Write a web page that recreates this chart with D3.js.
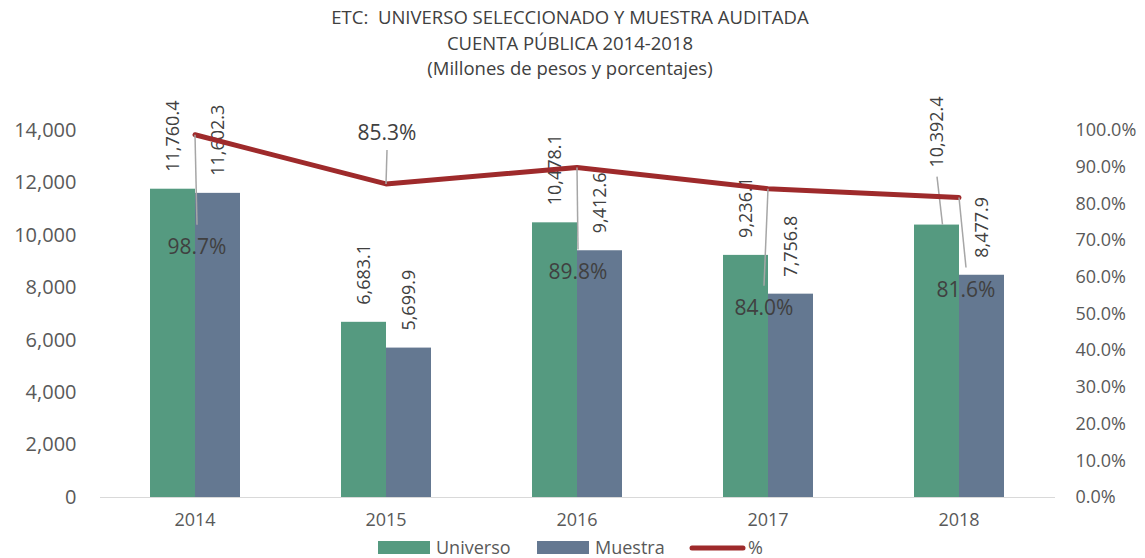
<!DOCTYPE html>
<html>
<head>
<meta charset="utf-8">
<script src="https://cdn.jsdelivr.net/npm/d3@7"></script>
<style>
  body { margin: 0; background: #fff; }
  text { font-family: "Open Sans", sans-serif; }
</style>
</head>
<body>
<div id="chart"></div>
<script>
// Chart data
var years = ["2014", "2015", "2016", "2017", "2018"];
var universo = [11760.4, 6683.1, 10478.1, 9236.1, 10392.4];
var muestra = [11602.3, 5699.9, 9412.6, 7756.8, 8477.9];
var porcentaje = [98.7, 85.3, 89.8, 84.0, 81.6];
var leftTicks = [0, 2000, 4000, 6000, 8000, 10000, 12000, 14000];
var rightTicks = [0, 10, 20, 30, 40, 50, 60, 70, 80, 90, 100];
var titleLines = ["ETC:  UNIVERSO SELECCIONADO Y MUESTRA AUDITADA", "CUENTA PÚBLICA 2014-2018", "(Millones de pesos y porcentajes)"];

// Label placement offsets (pixels from the line point), as in the original
var pctLabelDx = [2, 1, 1, -4, 7];
var pctLabelDy = [112, -51, 104, 119, 92];

var width = 1145, height = 558;
var margin = { top: 130, right: 90.5, bottom: 61, left: 99.5 };
var innerW = width - margin.left - margin.right;
var innerH = height - margin.top - margin.bottom;

var svg = d3.select("#chart").append("svg")
  .attr("width", width)
  .attr("height", height);

// Title
svg.append("g").selectAll("text")
  .data(titleLines)
  .enter().append("text")
  .attr("x", 570)
  .attr("y", function(d, i) { return 24 + i * 25.5; })
  .attr("text-anchor", "middle")
  .attr("font-size", 18.5)
  .attr("fill", "#404040")
  .style("white-space", "pre")
  .text(function(d) { return d; });

var g = svg.append("g")
  .attr("transform", "translate(" + margin.left + "," + margin.top + ")");

// Scales
var x = d3.scaleBand().domain(years).range([0, innerW]);
var x1 = d3.scaleBand().domain(["u", "m"]).range([0, 90]);
var yLeft = d3.scaleLinear().domain([0, 14000]).range([innerH, 0]);
var yRight = d3.scaleLinear().domain([0, 100]).range([innerH, 0]);

// Axes
var leftAxis = g.append("g")
  .call(d3.axisLeft(yLeft).tickValues(leftTicks).tickSize(0).tickPadding(23).tickFormat(d3.format(",")));
leftAxis.select(".domain").remove();
leftAxis.selectAll("text")
  .attr("font-size", 20)
  .attr("fill", "#595959")
  .style("font-family", "Open Sans");

var rightAxis = g.append("g")
  .attr("transform", "translate(" + innerW + ",0)")
  .call(d3.axisRight(yRight).tickValues(rightTicks).tickSize(0).tickPadding(21)
    .tickFormat(function(d) { return d.toFixed(1) + "%"; }));
rightAxis.select(".domain").remove();
rightAxis.selectAll("text")
  .attr("font-size", 18)
  .attr("fill", "#595959")
  .style("font-family", "Open Sans");

var bottomAxis = g.append("g")
  .attr("transform", "translate(0," + innerH + ")")
  .call(d3.axisBottom(x).tickSize(0).tickPadding(16));
bottomAxis.select(".domain").attr("stroke", "#d9d9d9").attr("stroke-width", 1.2);
bottomAxis.selectAll("text")
  .attr("font-size", 18)
  .attr("fill", "#595959")
  .style("font-family", "Open Sans");

// Bars
var rows = years.map(function(y, i) {
  return { year: y, u: universo[i], m: muestra[i], p: porcentaje[i], i: i };
});

var groups = g.selectAll(".grp")
  .data(rows)
  .enter().append("g")
  .attr("class", "grp")
  .attr("transform", function(d) { return "translate(" + (x(d.year) + x.bandwidth() / 2 - 45) + ",0)"; });

groups.append("rect")
  .attr("x", x1("u"))
  .attr("y", function(d) { return yLeft(d.u); })
  .attr("width", x1.bandwidth())
  .attr("height", function(d) { return innerH - yLeft(d.u); })
  .attr("fill", "#559a80");

groups.append("rect")
  .attr("x", x1("m"))
  .attr("y", function(d) { return yLeft(d.m); })
  .attr("width", x1.bandwidth())
  .attr("height", function(d) { return innerH - yLeft(d.m); })
  .attr("fill", "#647891");

// Value labels (rotated)
var fmt = d3.format(",.1f");
function valueLabel(sel, key, lift) {
  sel.append("text")
    .attr("transform", function(d) {
      var cx = x1(key) + x1.bandwidth() / 2 + 6;
      var cy = yLeft(d[key]) - lift(d);
      return "translate(" + cx + "," + cy + ") rotate(-90)";
    })
    .attr("font-size", 18)
    .attr("fill", "#404040")
    .text(function(d) { return fmt(d[key]); });
}
// the 2018 universo label was pulled up in the original, with a leader line
valueLabel(groups, "u", function(d) { return d.year === "2018" ? 57 : 17; });
valueLabel(groups, "m", function() { return 17; });

groups.filter(function(d) { return d.year === "2018"; })
  .append("line")
  .attr("x1", x1("u") + x1.bandwidth() / 2 + 0.5)
  .attr("y1", function(d) { return yLeft(d.u) - 48; })
  .attr("x2", x1("u") + x1.bandwidth() / 2 + 6)
  .attr("y2", function(d) { return yLeft(d.u); })
  .attr("stroke", "#a6a6a6")
  .attr("stroke-width", 1.5);

// Line series
var cx = function(d) { return x(d.year) + x.bandwidth() / 2; };
var line = d3.line()
  .x(cx)
  .y(function(d) { return yRight(d.p); });

g.append("path")
  .datum(rows)
  .attr("d", line)
  .attr("fill", "none")
  .attr("stroke", "#9e2a2b")
  .attr("stroke-width", 5)
  .attr("stroke-linecap", "round")
  .attr("stroke-linejoin", "round");

// Percent labels with leader lines
rows.forEach(function(d) {
  var px = cx(d), py = yRight(d.p);
  var lx = px + pctLabelDx[d.i], ly = py + pctLabelDy[d.i];
  var below = pctLabelDy[d.i] > 0;
  g.append("line")
    .attr("x1", px)
    .attr("y1", py)
    .attr("x2", lx)
    .attr("y2", below ? ly - 22 : ly + 17)
    .attr("stroke", "#a6a6a6")
    .attr("stroke-width", 1.5);
  g.append("text")
    .attr("x", lx)
    .attr("y", ly)
    .attr("dy", "0.35em")
    .attr("text-anchor", "middle")
    .attr("font-size", 21)
    .attr("fill", "#404040")
    .text(d.p.toFixed(1) + "%");
});

// Legend
var legend = svg.append("g").attr("transform", "translate(0,547)");
var items = [
  { name: "Universo", color: "#559a80", type: "rect", x: 378 },
  { name: "Muestra", color: "#647891", type: "rect", x: 537 },
  { name: "%", color: "#9e2a2b", type: "line", x: 690 }
];
items.forEach(function(it) {
  if (it.type === "rect") {
    legend.append("rect")
      .attr("x", it.x).attr("y", -6)
      .attr("width", 52).attr("height", 13)
      .attr("fill", it.color);
  } else {
    legend.append("line")
      .attr("x1", it.x + 2).attr("x2", it.x + 53)
      .attr("y1", 1).attr("y2", 1)
      .attr("stroke", it.color)
      .attr("stroke-width", 5)
      .attr("stroke-linecap", "round");
  }
  legend.append("text")
    .attr("x", it.x + 58)
    .attr("y", 1)
    .attr("dy", "0.35em")
    .attr("font-size", 18)
    .attr("fill", "#595959")
    .text(it.name);
});
</script>
</body>
</html>
